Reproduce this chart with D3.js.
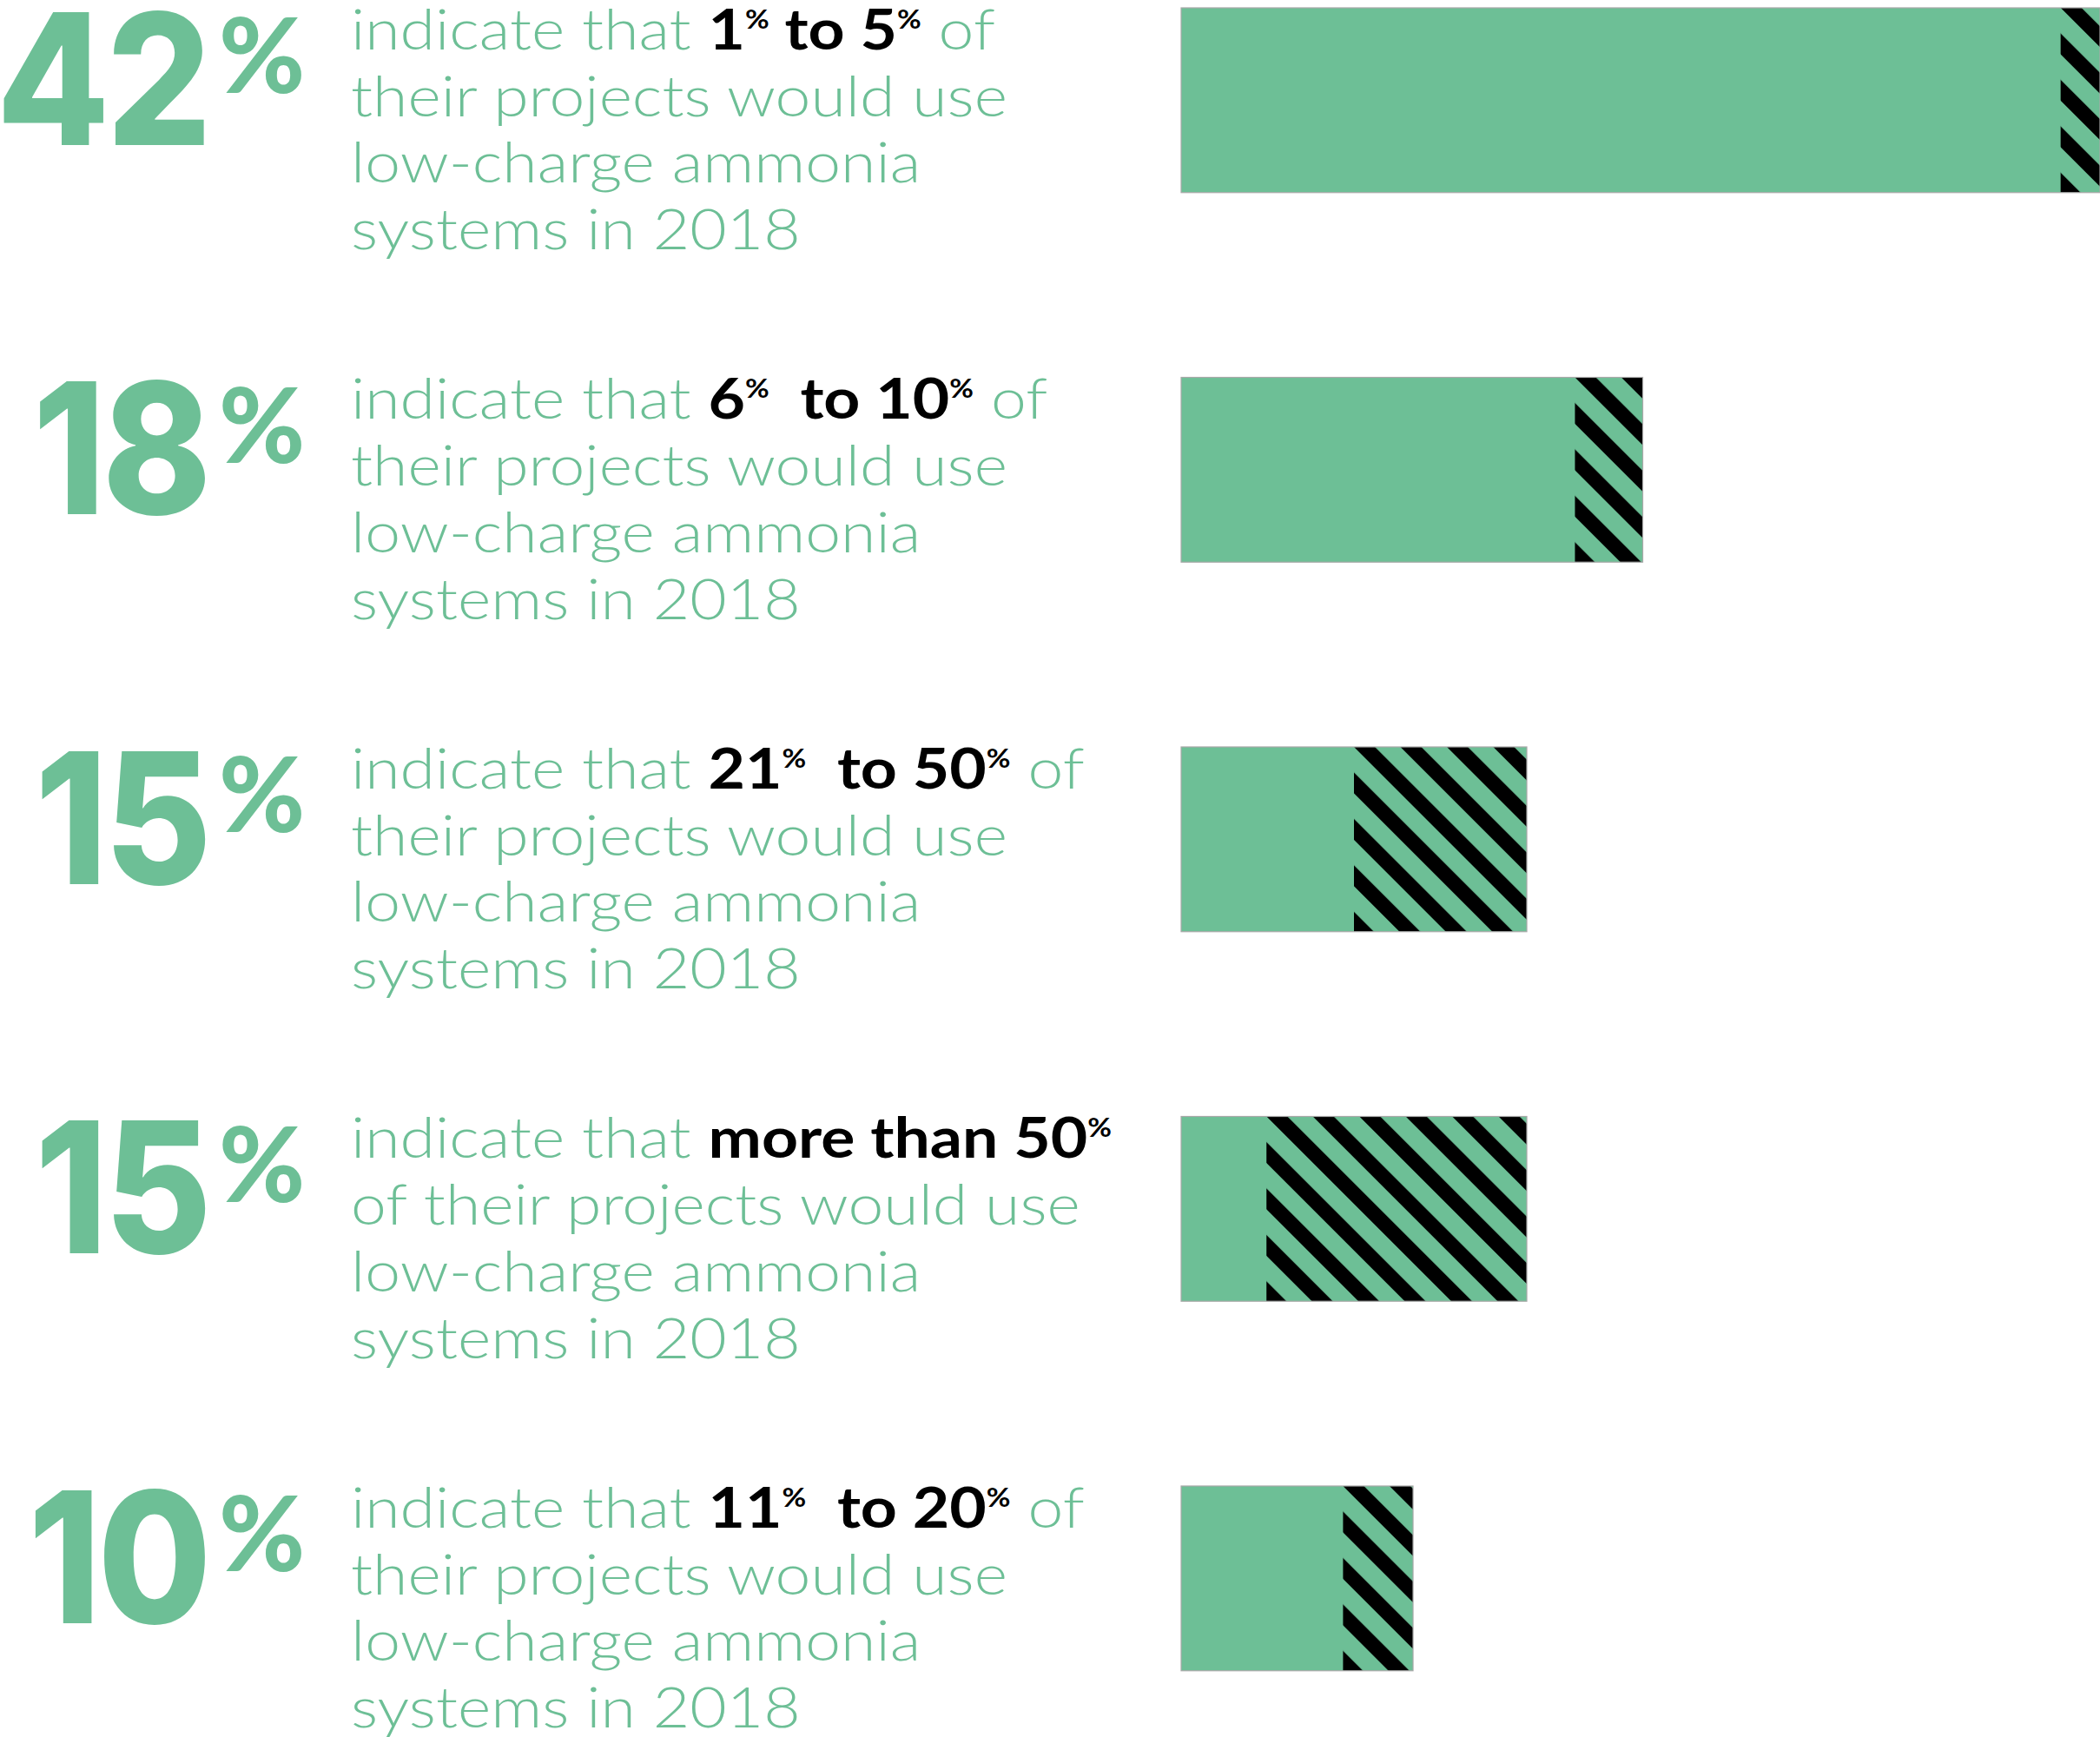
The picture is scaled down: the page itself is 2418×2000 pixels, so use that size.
<!DOCTYPE html>
<html><head><meta charset="utf-8">
<script src="https://cdn.jsdelivr.net/npm/d3@7"></script>
<style>body{margin:0;background:#fff}svg{display:block}</style></head>
<body><svg id="c"></svg>
<script>
// ---- data ----
const shares    = [42, 18, 15, 15, 10];
const ranges    = ["1% to 5%", "6%  to 10%", "21%  to 50%", "more than 50%", "11%  to 20%"];
const solidPart = [40.2, 18.0, 7.9, 3.9, 7.4];
const hatchPart = [1.8, 3.1, 7.9, 11.9, 3.2];
const tailLines = ["low-charge ammonia", "systems in 2018"];

// ---- setup ----
const GREEN = "#6dbf96";
const W = 2418, H = 2000;
const svg = d3.select("#c").attr("width", W).attr("height", H);
svg.append("rect").attr("width", W).attr("height", H).attr("fill", "#fff");
const defs = svg.append("defs");

const x = d3.scaleLinear().domain([0, 42]).range([1360, 2418]);
const step = 425.5;
const y = d3.scaleBand().domain(d3.range(shares.length))
  .range([9 - 0.25 * step, 9 + 4.75 * step]).paddingInner(0.5).paddingOuter(0.25);

// ---- bars ----
const bars = svg.append("g");
shares.forEach((s, i) => {
  const top = y(i), bh = y.bandwidth();
  const x0 = x(0), xs = x(solidPart[i]), xe = x(solidPart[i] + hatchPart[i]);
  const pat = defs.append("pattern").attr("id", "hatch" + i)
    .attr("patternUnits", "userSpaceOnUse").attr("width", 37.8).attr("height", 20)
    .attr("patternTransform", `translate(${xs},${top}) rotate(-45)`);
  pat.append("rect").attr("x", 0).attr("y", 0).attr("width", 17).attr("height", 20).attr("fill", "#000");
  bars.append("rect").attr("x", x0).attr("y", top).attr("width", xe - x0).attr("height", bh).attr("fill", GREEN);
  bars.append("rect").attr("x", xs).attr("y", top).attr("width", xe - xs).attr("height", bh).attr("fill", `url(#hatch${i})`);
  bars.append("rect").attr("x", x0).attr("y", top).attr("width", xe - x0).attr("height", bh)
    .attr("fill", "none").attr("stroke", "#a8a8a8").attr("stroke-width", 1.2);
});

// ---- big numbers ----
const bigG = svg.append("g").attr("font-family", "Inter, Roboto, Lato, sans-serif").attr("fill", GREEN);
const bigTexts = [];
shares.forEach((s, i) => {
  const g = bigG.append("g");
  g.append("text").attr("x", 0).attr("y", y(i) + 158).attr("text-anchor", "end")
    .attr("font-size", 210).attr("font-weight", 800)
    .style("font-variant-numeric", "proportional-nums").style("letter-spacing", "-4px").text(s);
  bigTexts.push(g);
  bigG.append("text").attr("x", 252).attr("y", y(i) + 98).attr("font-size", 120)
    .attr("font-family", "Lato, sans-serif").attr("font-weight", 900).text("%");
});
const w42 = bigTexts[0].select("text").node().getComputedTextLength();
const sBig = 244 / w42;
bigTexts.forEach(g => g.attr("transform", `translate(240,0) scale(${sBig},1)`));

// ---- body text ----
const bodyG = svg.append("g").attr("font-family", "Lato, 'Open Sans', sans-serif");
const LINE = 76.7, FS = 65, SUP = 30, SHIFT = 24;
const groups = [];
let refNode = null;
ranges.forEach((r, i) => {
  const g = bodyG.append("g");
  groups.push(g);
  const base = y(i) + 48;
  const more = r.startsWith("more");
  const lines = [null, more ? "of their projects would use" : "their projects would use", ...tailLines];
  const t1 = g.append("text").attr("x", 0).attr("y", base).attr("font-size", FS)
    .style("white-space", "pre");
  t1.append("tspan").attr("fill", GREEN).attr("font-weight", 300).text("indicate that ");
  let shifted = false;
  r.split(/(%)/).filter(p => p.length).forEach(p => {
    const ts = t1.append("tspan").attr("fill", "#000").attr("font-weight", 700);
    if (p === "%") {
      ts.attr("font-size", SUP).attr("dy", -SHIFT).text("%");
      shifted = true;
    } else {
      if (shifted) { ts.attr("dy", SHIFT); shifted = false; }
      ts.text(p);
    }
  });
  if (!more) {
    const ts = t1.append("tspan").attr("fill", GREEN).attr("font-weight", 300);
    if (shifted) { ts.attr("dy", SHIFT); shifted = false; }
    ts.text(" of");
  }
  lines.slice(1).forEach((l, k) => {
    const t = g.append("text").attr("x", 0).attr("y", base + (k + 1) * LINE).attr("font-size", FS)
      .attr("fill", GREEN).attr("font-weight", 300).style("white-space", "pre").text(l);
    if (i === 0 && k === 0) refNode = t.node();
  });
});
const sBody = 756 / refNode.getComputedTextLength();
groups.forEach(g => g.attr("transform", `translate(404,0) scale(${sBody},1)`));
</script></body></html>
